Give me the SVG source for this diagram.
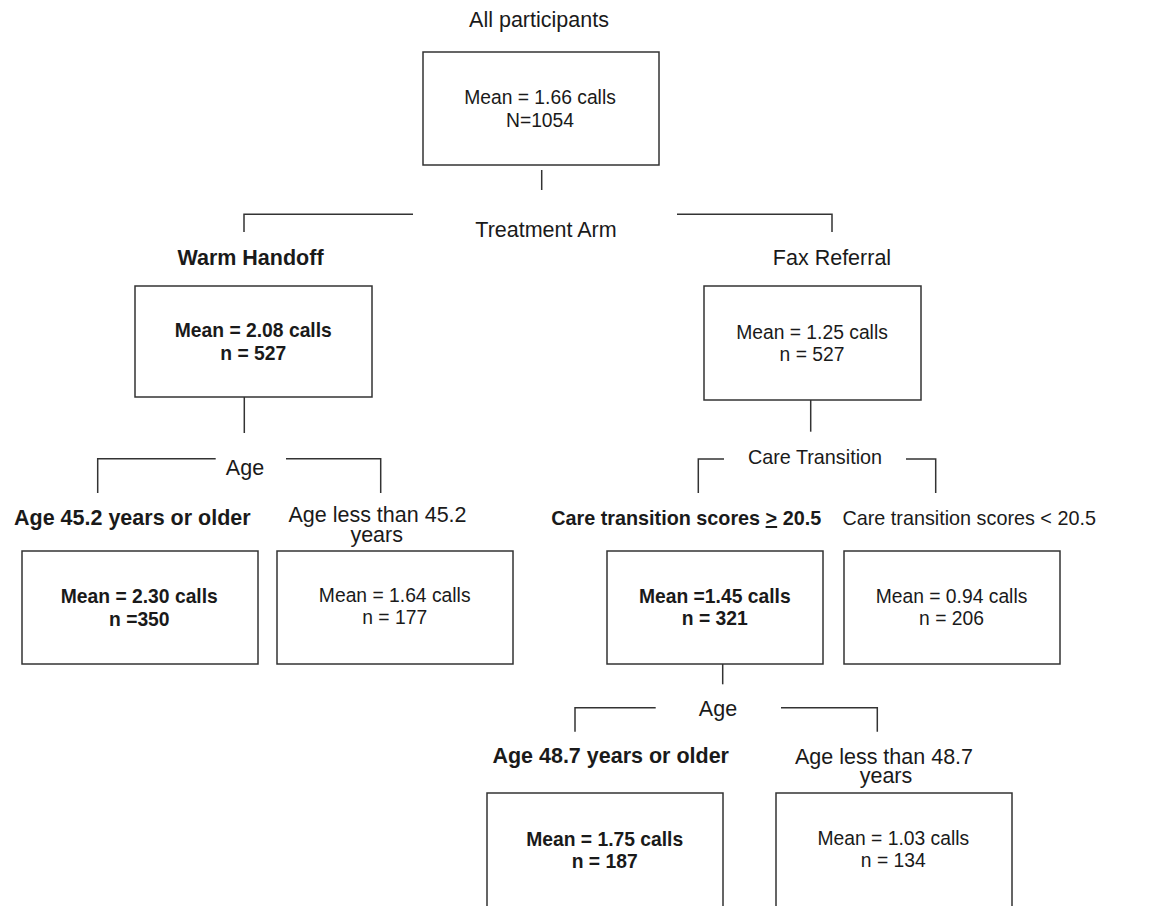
<svg xmlns="http://www.w3.org/2000/svg" width="1151" height="906" viewBox="0 0 1151 906">
<style>
  .box { fill: #ffffff; stroke: #333333; stroke-width: 1.5; }
  .conn { fill: none; stroke: #333333; stroke-width: 1.5; }
  text { font-family: "Liberation Sans", Arial, sans-serif; fill: #1a1a1a; text-anchor: middle; }
  .lbl { font-size: 21.5px; }
  .lbs { font-size: 19.8px; }
  .in { font-size: 19.3px; }
  .b { font-weight: bold; }
</style>
<rect width="1151" height="906" fill="#ffffff"/>
<g id="connectors">
  <path class="conn" d="M541.7,170 V190"/>
  <path class="conn" d="M244,232 V214.3 H413"/>
  <path class="conn" d="M677,214.3 H832 V232"/>
  <path class="conn" d="M244.3,397 V433"/>
  <path class="conn" d="M97.7,493 V458.7 H215.7"/>
  <path class="conn" d="M286,458.7 H380.7 V493"/>
  <path class="conn" d="M810.7,400 V431.7"/>
  <path class="conn" d="M698.3,493 V459 H724"/>
  <path class="conn" d="M906,459 H935.7 V493"/>
  <path class="conn" d="M722.7,664 V684.3"/>
  <path class="conn" d="M575,731.7 V707.7 H655.7"/>
  <path class="conn" d="M781,707.7 H877.3 V731.7"/>
</g>
<g id="split-labels">
  <text class="lbl" x="546" y="237">Treatment Arm</text>
  <text class="lbl" x="245" y="475">Age</text>
  <text class="lbs" x="815" y="464">Care Transition</text>
  <text class="lbl" x="718" y="716">Age</text>
</g>
<g id="node-all">
  <text class="lbl" x="539" y="27">All participants</text>
  <rect class="box" x="423" y="52" width="236" height="113"/>
  <text class="in" x="540" y="104">Mean = 1.66 calls</text>
  <text class="in" x="540" y="126.5">N=1054</text>
</g>
<g id="node-warm">
  <text class="lbl b" x="250.5" y="265">Warm Handoff</text>
  <rect class="box" x="135" y="286" width="237" height="111"/>
  <text class="in b" x="253.3" y="337">Mean = 2.08 calls</text>
  <text class="in b" x="253.3" y="360">n = 527</text>
</g>
<g id="node-fax">
  <text class="lbl" x="832" y="265">Fax Referral</text>
  <rect class="box" x="704" y="286" width="217" height="114"/>
  <text class="in" x="812" y="339">Mean = 1.25 calls</text>
  <text class="in" x="812" y="361">n = 527</text>
</g>
<g id="node-age-old-1">
  <text class="lbl b" x="132.3" y="525">Age 45.2 years or older</text>
  <rect class="box" x="22" y="551" width="236" height="113"/>
  <text class="in b" x="139.3" y="603">Mean = 2.30 calls</text>
  <text class="in b" x="139.3" y="626">n =350</text>
</g>
<g id="node-age-young-1">
  <text class="lbl" x="377.5" y="521.7">Age less than 45.2</text>
  <text class="lbl" x="376.7" y="542">years</text>
  <rect class="box" x="277" y="551" width="236" height="113"/>
  <text class="in" x="394.7" y="602">Mean = 1.64 calls</text>
  <text class="in" x="394.7" y="624">n = 177</text>
</g>
<g id="node-care-high">
  <text class="lbs b" x="686.2" y="525">Care transition scores <tspan text-decoration="underline">&gt;</tspan> 20.5</text>
  <rect class="box" x="607" y="551" width="216" height="113"/>
  <text class="in b" x="714.8" y="603">Mean =1.45 calls</text>
  <text class="in b" x="714.8" y="625">n = 321</text>
</g>
<g id="node-care-low">
  <text class="lbs" x="969.2" y="525">Care transition scores &lt; 20.5</text>
  <rect class="box" x="844" y="551" width="216" height="113"/>
  <text class="in" x="951.5" y="603">Mean = 0.94 calls</text>
  <text class="in" x="951.5" y="625">n = 206</text>
</g>
<g id="node-age-old-2">
  <text class="lbl b" x="610.7" y="763">Age 48.7 years or older</text>
  <rect class="box" x="487" y="793" width="236" height="140"/>
  <text class="in b" x="604.7" y="846">Mean = 1.75 calls</text>
  <text class="in b" x="604.7" y="868">n = 187</text>
</g>
<g id="node-age-young-2">
  <text class="lbl" x="884" y="763.5">Age less than 48.7</text>
  <text class="lbl" x="886" y="783.3">years</text>
  <rect class="box" x="776" y="793" width="236" height="140"/>
  <text class="in" x="893.3" y="845">Mean = 1.03 calls</text>
  <text class="in" x="893.3" y="867">n = 134</text>
</g>
</svg>
